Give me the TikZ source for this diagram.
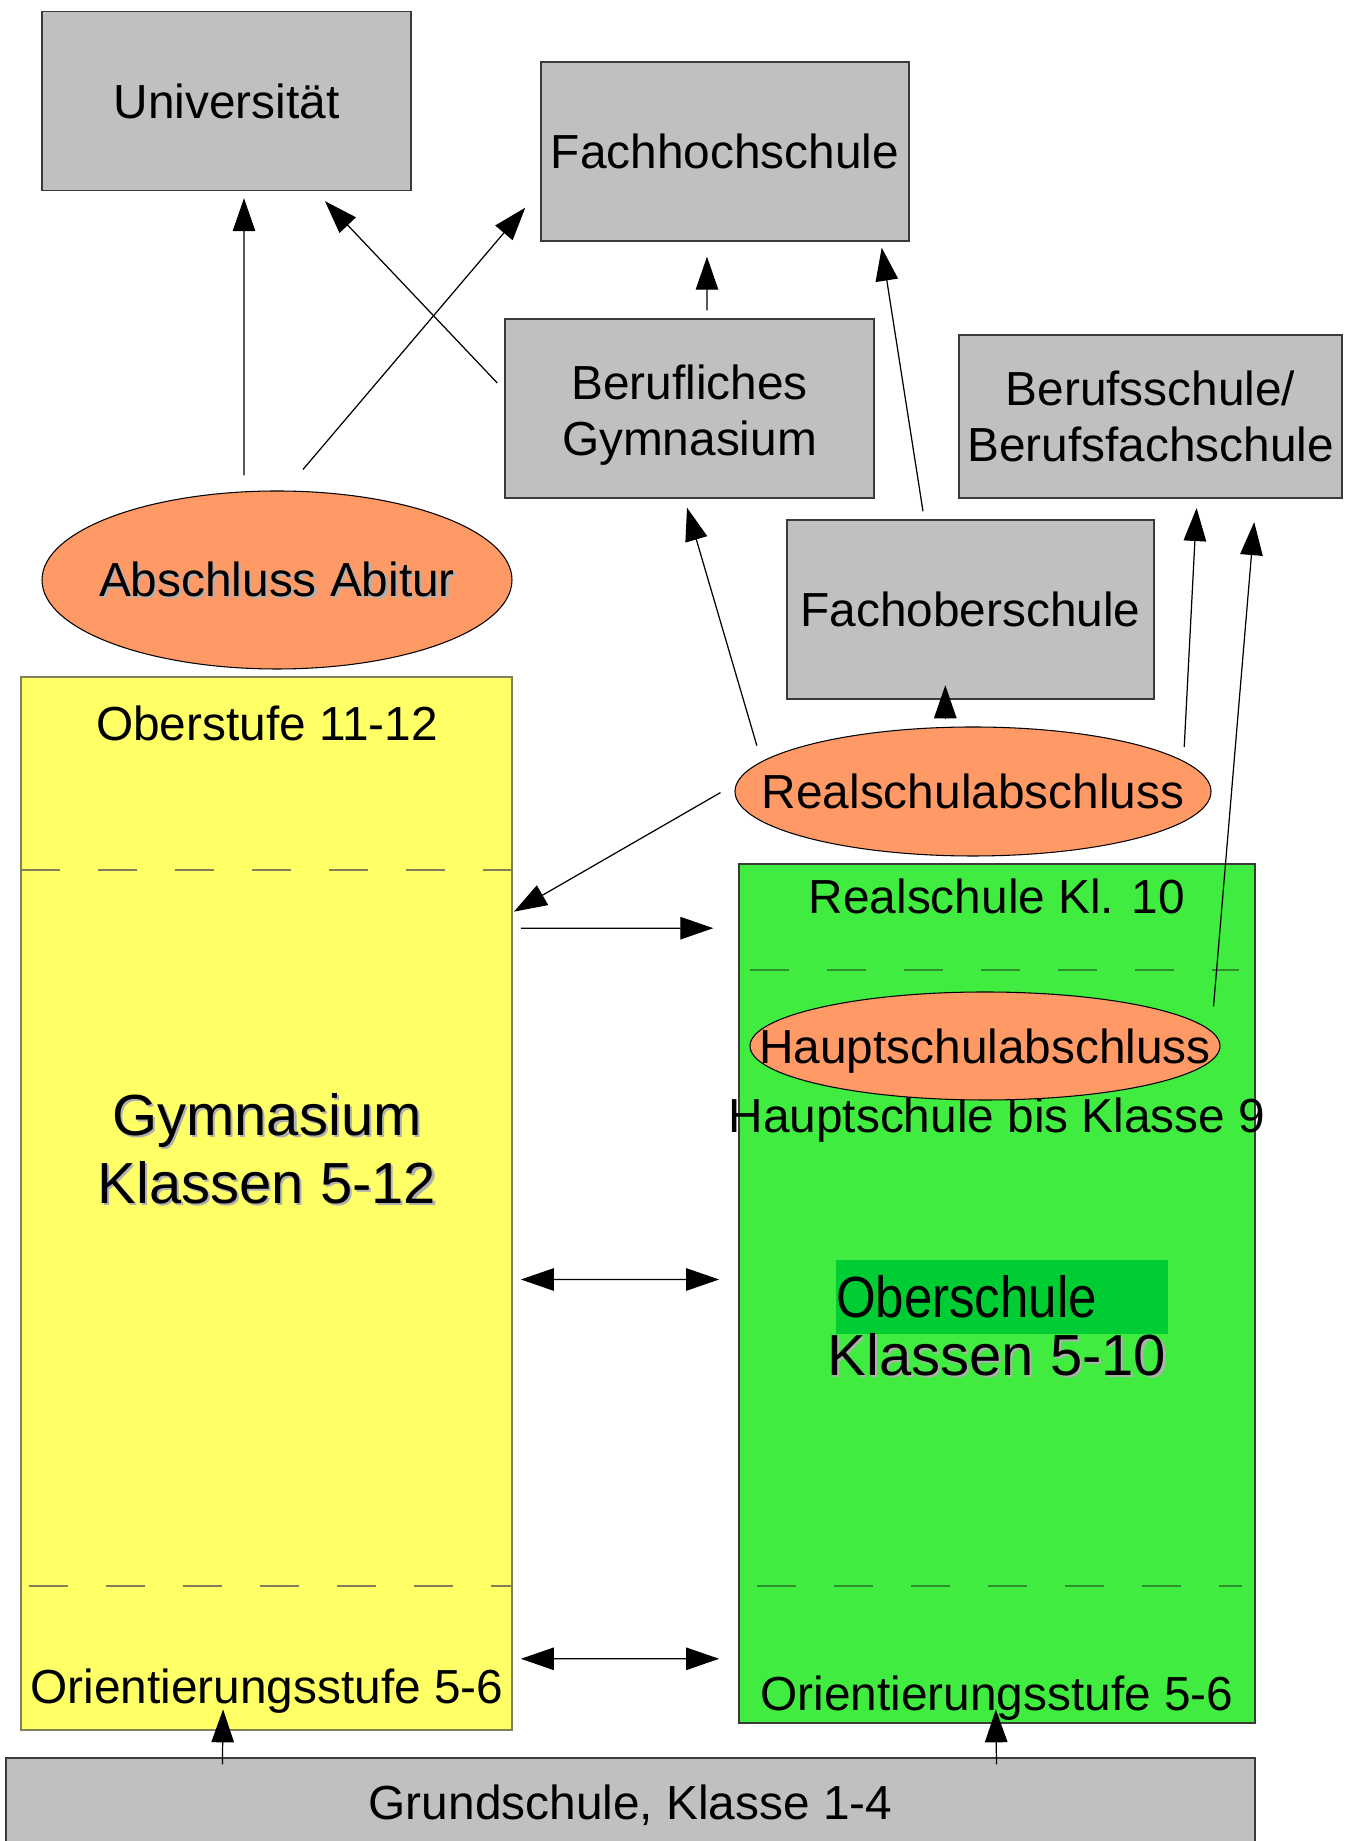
\documentclass[tikz,border=0pt]{standalone}
\usepackage{fontspec}
\setmainfont{Liberation Sans}
\usetikzlibrary{shapes.geometric,arrows.meta,calc}

\definecolor{boxgray}{HTML}{C0C0C0}
\definecolor{boxline}{HTML}{3A3A3A}
\definecolor{examorange}{HTML}{FF9966}
\definecolor{gymyellow}{HTML}{FFFF66}
\definecolor{gymline}{HTML}{80805A}
\definecolor{rsgreen}{HTML}{3FEC3F}
\definecolor{rsdash}{HTML}{2F8F2F}
\definecolor{obgreen}{HTML}{00CC33}
\definecolor{shadowgray}{HTML}{B0B0B0}

\newcommand\shadowed[1]{\leavevmode\rlap{\kern0.6pt\raisebox{-0.6pt}{\textcolor{shadowgray}{#1}}}#1}
\newcommand\bigtext{\fontsize{16.5}{19.3}\selectfont}

\tikzset{
  schoolbox/.style={draw=boxline, fill=boxgray, minimum width=3.69cm, minimum height=1.79cm, align=center, inner sep=0pt},
  exam/.style={ellipse, draw=black, line width=0.3pt, fill=examorange, inner sep=0pt},
  arr/.style={-{Triangle[length=9.4pt,width=6.4pt]}, line width=0.35pt},
  bothway/.style={{Triangle[length=9.4pt,width=6.4pt]}-{Triangle[length=9.4pt,width=6.4pt]}, line width=0.35pt},
  stage/.style={dash pattern=on 0.39cm off 0.38cm, line width=0.5pt}
}

\begin{document}
\begin{tikzpicture}[font=\fontsize{13.6}{16}\selectfont]
  \useasboundingbox (0,0) rectangle (13.54,18.41);

  % upper schools
  \node[schoolbox] (uni) at (2.265,17.40) {Universität};
  \node[schoolbox, minimum width=3.68cm] (fh) at (7.25,16.895) {Fachhochschule};
  \node[schoolbox, label={[align=center, yshift=-0.07cm]center:Berufliches\\Gymnasium}] (bg) at (6.895,14.325) {};
  \node[schoolbox, minimum width=3.83cm, minimum height=1.63cm] (bs) at (11.505,14.245) {Berufsschule/\\Berufsfachschule};
  \node[schoolbox, minimum width=3.67cm] (fos) at (9.705,12.315) {Fachoberschule};

  % Gymnasium
  \node[draw=gymline, fill=gymyellow, minimum width=4.91cm, minimum height=10.53cm, inner sep=0pt] (gym) at (2.665,6.375) {};
  \draw[stage, draw=gymline] (0.21,9.71) -- (5.12,9.71);
  \draw[stage, draw=gymline] (0.29,2.55) -- (5.12,2.55);
  \node (oberstufe) at (2.67,11.18) {Oberstufe 11-12};
  \node[align=center, font=\bigtext] (gymtext) at (2.67,6.91) {\shadowed{Gymnasium}\\\shadowed{Klassen 5-12}};
  \node (orientgym) at (2.67,1.50) {Orientierungsstufe 5-6};

  % Oberschule
  \node[draw=boxline, fill=rsgreen, minimum width=5.16cm, minimum height=8.59cm, inner sep=0pt] (grn) at (9.97,5.475) {};
  \draw[stage, draw=rsdash] (7.50,8.71) -- (12.39,8.71);
  \draw[stage, draw=rsdash] (7.57,2.55) -- (12.42,2.55);
  \node (rskl) at (9.97,9.45) {Realschule Kl. 10};
  \node (hsbis) at (9.97,7.205) {Hauptschule bis Klasse 9};
  \node[fill=obgreen, minimum width=3.32cm, minimum height=0.74cm, text width=3.32cm, inner sep=0pt, align=left, font=\bigtext] (ober) at (10.02,5.44) {\scalebox{0.88}[1]{Oberschule}};
  \node[font=\bigtext] (klassen) at (9.97,4.85) {\shadowed{Klassen 5-10}};
  \node (orientos) at (9.97,1.43) {Orientierungsstufe 5-6};

  % Abschluesse
  \node[exam, minimum width=4.70cm, minimum height=1.78cm, label={center:\shadowed{Abschluss Abitur}}] (abi) at (2.77,12.61) {};
  \node[exam, minimum width=4.76cm, minimum height=1.29cm, label={center:Realschulabschluss}] (rsa) at (9.73,10.495) {};
  \node[exam, minimum width=4.70cm, minimum height=1.08cm, label={[yshift=-0.05cm]center:Hauptschulabschluss}] (hsa) at (9.85,7.95) {};

  % Grundschule
  \node[schoolbox, minimum width=12.49cm, minimum height=0.88cm, label={[yshift=-0.035cm]center:Grundschule, Klasse 1-4}] (grund) at (6.305,0.39) {};

  % Wege
  \draw[arr] ($(abi.north)+(-0.33,0.15)$) -- ($(uni.south)+(0.175,-0.07)$);
  \draw[arr] ($(abi.north)+(0.26,0.21)$) -- ($(fh.south west)+(-0.15,0.34)$);
  \draw[arr] ($(bg.west)+(-0.07,0.255)$) -- ($(uni.south)+(0.985,-0.10)$);
  \draw[arr] ($(bg.north)+(0.175,0.08)$) -- ($(fh.south)+(-0.18,-0.15)$);
  \draw[arr] ($(fos.north)+(-0.475,0.08)$) -- ($(fh.south east)+(-0.28,-0.06)$);
  \draw[arr] ($(rsa.west)+(0.224,0.458)$) -- ($(bg.south)+(-0.025,-0.09)$);
  \draw[arr] ($(rsa.north)+(-0.277,0.08)$) -- ($(fos.south)+(-0.252,0.144)$);
  \draw[arr] ($(rsa.east)+(-0.273,0.446)$) -- ($(bs.south)+(0.461,-0.093)$);
  \draw[arr] ($(hsa.east)+(-0.07,0.396)$) -- ($(bs.south)+(1.037,-0.234)$);
  \draw[arr] ($(rsa.west)+(-0.14,-0.011)$) -- ($(gym.north east)+(0.012,-2.354)$);
  \draw[arr] ($(gym.north east)+(0.082,-2.519)$) -- ($(grn.north west)+(-0.25,-0.649)$);
  \draw[bothway] ($(gym.south east)+(0.082,4.512)$) -- ($(grn.south west)+(-0.192,4.442)$);
  \draw[bothway] ($(gym.south east)+(0.082,0.719)$) -- ($(grn.south west)+(-0.192,0.649)$);
  \draw[arr] ($(grund.north west)+(2.171,-0.07)$) -- ($(gym.south)+(-0.434,0.214)$);
  \draw[arr] ($(grund.north east)+(-2.592,-0.07)$) -- ($(grn.south)+(-0.012,0.144)$);
\end{tikzpicture}
\end{document}
